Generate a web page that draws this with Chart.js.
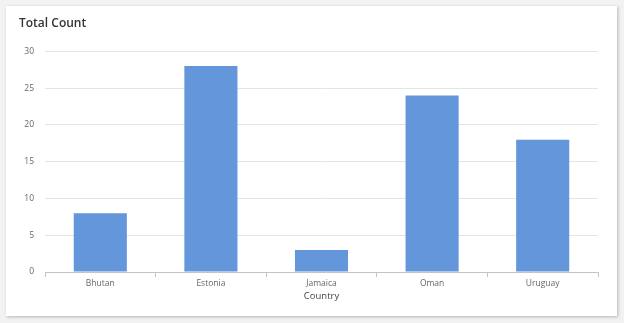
<!DOCTYPE html>
<html>
<head>
<meta charset="utf-8">
<script src="https://cdn.jsdelivr.net/npm/chart.js@4"></script>
<style>
    body { margin: 0; background: #f2f2f2; width: 624px; height: 323px; position: relative; overflow: hidden; }
    .card {
        position: absolute; left: 6px; top: 6px; width: 611px; height: 310px;
        background: #fff; box-shadow: 1px 1px 3px rgba(0,0,0,0.25);
    }
    #chartCanvas { position: absolute; left: 0; top: 0; }
</style>
</head>
<body>
<div class="card"></div>
<canvas id="chartCanvas" width="624" height="323"></canvas>
<script>
const countries = ['Bhutan', 'Estonia', 'Jamaica', 'Oman', 'Uruguay'];
const totalCounts = [8, 28, 3, 24, 18];
const yTicks = [0, 5, 10, 15, 20, 25, 30];

const fontFamily = '"Open Sans", "Noto Sans", sans-serif';

const ctx = document.getElementById('chartCanvas').getContext('2d');

new Chart(ctx, {
    type: 'bar',
    data: {
        labels: countries,
        datasets: [{
            label: 'Total Count',
            data: totalCounts,
            backgroundColor: 'rgb(99, 150, 218)',
            borderWidth: 0,
            barPercentage: 0.48,
            categoryPercentage: 1
        }]
    },
    options: {
        responsive: false,
        animation: false,
        layout: {
            padding: { left: 19, right: 26, top: 6, bottom: 21 }
        },
        plugins: {
            legend: { display: false },
            tooltip: { enabled: false },
            title: {
                display: true,
                text: 'Total Count',
                align: 'start',
                color: '#333',
                font: { family: fontFamily, size: 12, weight: '600' },
                padding: { top: 10, bottom: 21 }
            }
        },
        scales: {
            x: {
                grid: {
                    drawOnChartArea: false,
                    drawTicks: true,
                    tickLength: 5,
                    color: '#c4c4c4'
                },
                border: { color: '#c4c4c4' },
                ticks: {
                    color: '#666',
                    padding: 1,
                    font: { family: fontFamily, size: 8.5 }
                },
                title: {
                    display: true,
                    text: 'Country',
                    color: '#444',
                    padding: { top: 2, bottom: 0 },
                    font: { family: fontFamily, size: 9.5 }
                },
                afterFit: (scale) => { scale.height = 30; }
            },
            y: {
                min: 0,
                max: 30,
                afterBuildTicks: (scale) => {
                    scale.ticks = yTicks.map(v => ({ value: v }));
                },
                grid: {
                    color: '#e4e4e4',
                    drawTicks: false
                },
                border: { display: false },
                ticks: {
                    color: '#666',
                    padding: 11,
                    font: { family: fontFamily, size: 8.5 }
                },
                afterFit: (scale) => { scale.width = 26; }
            }
        }
    }
});
</script>
</body>
</html>
